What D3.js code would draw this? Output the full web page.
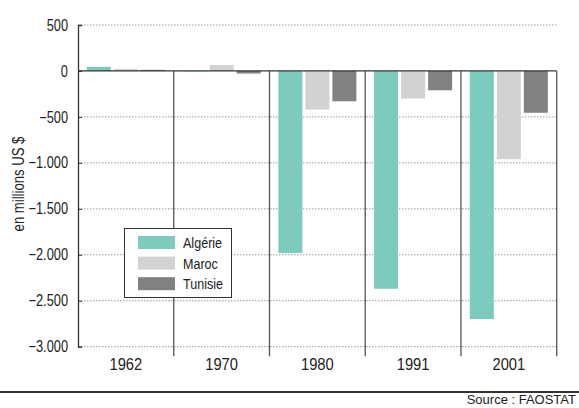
<!DOCTYPE html>
<html>
<head>
<meta charset="utf-8">
<script src="https://cdn.jsdelivr.net/npm/d3@7"></script>
<style>
  body { margin: 0; background: #fff; }
  svg text { font-family: "Liberation Sans", Arial, sans-serif; fill: #222; }
</style>
</head>
<body>
<div id="chart"></div>
<script>
// data
const years   = ['1962', '1970', '1980', '1991', '2001'];
const series  = ['Algérie', 'Maroc', 'Tunisie'];
const algerie = [45, -5, -1980, -2370, -2700];
const maroc   = [22, 65, -420, -300, -960];
const tunisie = [12, -28, -330, -210, -455];
const yTicks  = [500, 0, -500, -1000, -1500, -2000, -2500, -3000];
const colours = ['#7ccbbf', '#d1d2d4', '#808183'];

const values = [algerie, maroc, tunisie];

// aux: squeeze text horizontally (the original uses a condensed face)
function squeeze(sel, k) {
  sel.each(function() {
    const w = this.getComputedTextLength();
    d3.select(this)
      .attr('textLength', w * k)
      .attr('lengthAdjust', 'spacingAndGlyphs');
  });
}

// =============================================
const width = 579, height = 408;
const plotL = 78, plotR = 556.7, plotT = 25, plotB = 346.7;

let svg = d3.select('#chart')
            .append('svg')
            .attr('width', width)
            .attr('height', height);

let y  = d3.scaleLinear().domain([-3000, 500]).range([plotB, plotT]);
let x  = d3.scaleBand().domain(years).range([plotL, plotR]);
let xs = d3.scaleBand().domain(series).range([0, x.bandwidth()])
           .paddingInner(0.111).paddingOuter(0.328);

const fmt = d => d3.format(',')(d).replace(/,/g, '.');

// dotted grid lines
svg.append('g')
   .selectAll('line')
   .data(yTicks.filter(d => d !== 0))
   .enter()
   .append('line')
   .attr('x1', plotL).attr('x2', plotR)
   .attr('y1', d => y(d)).attr('y2', d => y(d))
   .attr('stroke', '#999')
   .attr('stroke-width', 1)
   .attr('stroke-dasharray', '1.5,1.5');

// y axis
let yAxis = d3.axisLeft(y).tickValues(yTicks).tickSize(-4).tickPadding(10).tickFormat(fmt);
let gy = svg.append('g')
            .attr('transform', `translate(${plotL},0)`)
            .call(yAxis);
gy.select('.domain').attr('stroke', '#333').attr('stroke-width', 1.3);
gy.selectAll('.tick line').attr('stroke', '#333');
gy.selectAll('.tick text')
  .attr('font-size', 16)
  .attr('fill', '#222')
  .style('font-family', '"Liberation Sans", Arial, sans-serif')
  .call(squeeze, 0.8);

// category separators
svg.append('g')
   .selectAll('line')
   .data(years)
   .enter()
   .append('line')
   .attr('x1', d => x(d) + x.bandwidth()).attr('x2', d => x(d) + x.bandwidth())
   .attr('y1', y(0)).attr('y2', plotB + 9.5)
   .attr('stroke', '#555')
   .attr('stroke-width', 1.3);

// bars
series.forEach(function(s, i) {
  svg.append('g')
     .selectAll('rect')
     .data(values[i])
     .enter()
     .append('rect')
     .attr('x', (d, j) => x(years[j]) + xs(s))
     .attr('width', xs.bandwidth())
     .attr('y', d => y(Math.max(0, d)))
     .attr('height', d => Math.abs(y(d) - y(0)))
     .attr('fill', colours[i]);
});

// zero line
svg.append('line')
   .attr('x1', plotL).attr('x2', plotR)
   .attr('y1', y(0)).attr('y2', y(0))
   .attr('stroke', '#333')
   .attr('stroke-width', 1.3);

// x labels
svg.append('g')
   .selectAll('text')
   .data(years)
   .enter()
   .append('text')
   .attr('x', d => x(d) + x.bandwidth() / 2)
   .attr('y', 364)
   .attr('dy', '0.35em')
   .attr('text-anchor', 'middle')
   .attr('font-size', 16)
   .text(d => d)
   .call(squeeze, 0.92);

// y label
svg.append('text')
   .attr('transform', 'translate(18,184) rotate(-90)')
   .attr('text-anchor', 'middle')
   .attr('dy', '0.35em')
   .attr('font-size', 16)
   .text('en millions US $')
   .call(squeeze, 0.82);

// legend
let legend = svg.append('g');
legend.append('rect')
      .attr('x', 124.5).attr('y', 228.5)
      .attr('width', 107).attr('height', 69)
      .attr('fill', '#fff')
      .attr('stroke', '#333')
      .attr('stroke-width', 1);
series.forEach(function(s, i) {
  legend.append('rect')
        .attr('x', 138).attr('y', 236 + i * 20.6)
        .attr('width', 37).attr('height', 13)
        .attr('fill', colours[i]);
  legend.append('text')
        .attr('x', 183).attr('y', 242.5 + i * 20.6)
        .attr('dy', '0.35em')
        .attr('font-size', 15.5)
        .text(s)
        .call(squeeze, 0.81);
});

// bottom rule and source
svg.append('line')
   .attr('x1', 0).attr('x2', width)
   .attr('y1', 392).attr('y2', 392)
   .attr('stroke', '#333')
   .attr('stroke-width', 2);

svg.append('text')
   .attr('x', 576).attr('y', 399)
   .attr('dy', '0.35em')
   .attr('text-anchor', 'end')
   .attr('font-size', 13)
   .text('Source : FAOSTAT')
   .call(squeeze, 1);
</script>
</body>
</html>
